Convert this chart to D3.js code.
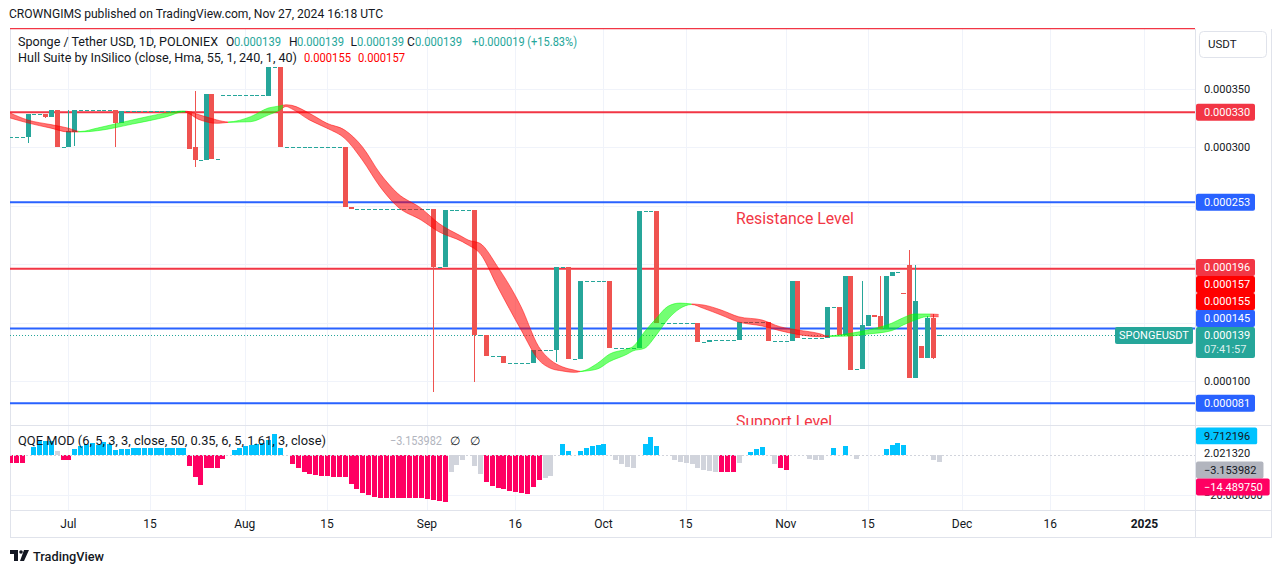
<!DOCTYPE html>
<html lang="en">
<head>
<meta charset="UTF-8">
<title>SPONGEUSDT 1D</title>
<script src="https://d3js.org/d3.v7.min.js"></script>
<style>
  body { margin: 0; background: #fff; }
  svg text { font-family: Roboto, "Noto Sans", sans-serif; fill: #131722; }
</style>
</head>
<body>
<svg width="1281" height="573"></svg>
<script>
// ---- data (prices in 1e-6 USDT) ----
// [date, open, high, low, close]; [date, price] = flat bar
const candles = [
  ["06-21",309],["06-22",309],["06-23",309],
  ["06-24",309,329,304,329],
  ["06-25",329],["06-26",329],
  ["06-27",329,329,325,326],
  ["06-28",326,332,326,332],
  ["06-29",332,332,300,300],
  ["06-30",300],
  ["07-01",300,332,300,314],
  ["07-02",313,332,301,332],
  ["07-03",332],["07-04",332],["07-05",332],["07-06",332],["07-07",332],["07-08",332],
  ["07-09",332,332,300,321],
  ["07-10",321,331,321,331],
  ["07-11",331],["07-12",331],["07-13",331],["07-14",331],["07-15",331],["07-16",331],
  ["07-17",331],["07-18",331],["07-19",331],["07-20",331],["07-21",331],
  ["07-22",331,331,299,299],
  ["07-23",300,348,283,289],
  ["07-24",289],
  ["07-25",289,346,289,346],
  ["07-26",346,346,290,290],
  ["07-27",290],
  ["07-28",345],["07-29",345],["07-30",345],["07-31",345],["08-01",345],["08-02",345],["08-03",345],["08-04",345],
  ["08-05",344,369,344,369],
  ["08-06",369],
  ["08-07",369,369,300,300],
  ["08-08",300],["08-09",300],["08-10",300],["08-11",300],["08-12",300],["08-13",300],
  ["08-14",300],["08-15",300],["08-16",300],["08-17",300],
  ["08-18",300,300,249,249],
  ["08-19",249,249,247,247],
  ["08-20",247],["08-21",247],["08-22",247],["08-23",247],["08-24",247],["08-25",247],
  ["08-26",247],["08-27",247],["08-28",247],["08-29",247],["08-30",247],["08-31",247],["09-01",247],
  ["09-02",247,247,91,198],
  ["09-03",198],
  ["09-04",198,246,198,246],
  ["09-05",246],["09-06",246],["09-07",246],["09-08",246],
  ["09-09",246,246,99,139],
  ["09-10",139],
  ["09-11",139,139,121,121],
  ["09-12",121],["09-13",121],
  ["09-14",121,121,115,115],
  ["09-15",115],["09-16",115],["09-17",115],["09-18",115],
  ["09-19",115,126.5,115,126.5],
  ["09-20",126.5],["09-21",126.5],["09-22",126.5],
  ["09-23",126.5,198,116.5,198],
  ["09-24",198],
  ["09-25",198,198,119,119],
  ["09-26",119],
  ["09-27",119,186,119,186],
  ["09-28",186],["09-29",186],["09-30",186],["10-01",186],
  ["10-02",186,186,128,128],
  ["10-03",128],["10-04",128],["10-05",128],["10-06",128],
  ["10-07",128,245.5,128,245.5],
  ["10-08",245.5],["10-09",245.5],
  ["10-10",245.5,245.5,150,150],
  ["10-11",150],["10-12",150],["10-13",150],["10-14",150],["10-15",150],["10-16",150],
  ["10-17",150,150,133.6,133.6],
  ["10-18",133.6],
  ["10-19",133.6,135.5,133.6,135.5],
  ["10-20",135.5],["10-21",135.5],["10-22",135.5],["10-23",135.5],
  ["10-24",135.5,150.8,135.5,150.8],
  ["10-25",150.8],["10-26",150.8],["10-27",150.8],["10-28",150.8],
  ["10-29",150.8,150.8,134.5,134.5],
  ["10-30",134.5],["10-31",134.5],["11-01",134.5],
  ["11-02",134.5,186,134.5,186],
  ["11-03",186,186,137,137],
  ["11-04",137],["11-05",137],["11-06",137],["11-07",137],
  ["11-08",137,163.6,137,163.6],
  ["11-09",163.6],
  ["11-10",163.6,163.6,139.4,139.4],
  ["11-11",139.4,190,139.4,190],
  ["11-12",190,190,109.4,109.4],
  ["11-13",110],
  ["11-14",110,186,110,148],
  ["11-15",147,156.5,147,156.5],
  ["11-16",156.5,156.5,154.5,154.5],
  ["11-17",155.5,190,144.3,144.3],
  ["11-18",144.3,190,144.3,190],
  ["11-19",189.5,193,189.5,193],
  ["11-20",193],
  ["11-21",175.5,175.5,174.5,174.5],
  ["11-22",199.4,212,102.3,102.3],
  ["11-23",102.3,199.4,102.3,168.5],
  ["11-24",130,130,120,120],
  ["11-25",120,155.6,120,154],
  ["11-26",154,157,119,120],
  ["11-27",139]
];

// Hull Suite band, read at knots: [date, upper, lower]
const hullKnots = [
  ["06-21",329.5,325.2],["06-24",323.5,321],["06-28",319.5,316.5],["07-01",316.5,313.2],
  ["07-03",313.6,313.2],["07-06",316.6,314.3],["07-12",323.5,320],["07-18",329.5,326.3],
  ["07-21",331.2,330.4],["07-24",327.7,323.5],["07-27",323.5,320.6],["07-29",321.8,321.4],
  ["08-02",326.3,322],["08-05",333.7,327.7],["08-07",335.5,332],["08-08",336.5,335],
  ["08-09",336,333],["08-12",329.2,323.5],["08-15",320.6,316.4],["08-18",314.9,307.8],
  ["08-21",300.6,289.2],["08-24",277.8,266.4],["08-27",260.7,249.2],["08-31",247.9,237.8],
  ["09-03",235,227.8],["09-07",223.5,219.3],["09-08",220.7,216.4],["09-10",217.9,209.3],
  ["09-13",197.9,180.7],["09-17",163.6,143.7],["09-20",129.4,118],["09-22",118,110.9],
  ["09-24",112.2,108.6],["09-26",109.4,107.4],["09-27",108.3,108],["09-30",115.2,110.3],
  ["10-02",122.9,116.5],["10-05",127.4,122.9],["10-06",129.4,125.7],["10-08",142.2,128],
  ["10-10",153.7,139.4],["10-12",164,153],["10-14",166.7,162],["10-16",166,165.5],
  ["10-18",165.1,162.2],["10-21",160.8,156.5],["10-24",155,150.5],["10-28",152.2,147.1],
  ["10-31",146.5,143.1],["11-03",143.7,139.9],["11-07",140.2,137.9],["11-08",138.6,138.1],
  ["11-12",140.8,138.5],["11-15",143.7,140.2],["11-19",149.4,143.1],["11-21",154.2,148],
  ["11-23",157.4,152.2],["11-25",157.4,155],["11-27",157,155]
];
// periods where the hull is rising (green)
const hullGreen = [["07-02T16","07-21T08"],["07-29T00","08-07T12"],["09-27T00","10-16T00"],["11-08T08","11-25T14"]];

// QQE MOD histogram: [date, value, kind] (b = cyan, p = pink, g = grey)
const qqeBars = [
  ["06-21",-4,"p"],["06-22",-4,"p"],["06-23",-4,"p"],
  ["06-25",4.3,"b"],["06-26",7.3,"b"],["06-27",7.3,"b"],["06-28",7.0,"b"],
  ["06-29",2,"g"],["06-30",-2.3,"p"],["07-01",-2.3,"p"],
  ["07-02",3.2,"b"],["07-03",4.8,"b"],["07-04",5.7,"b"],["07-05",6.0,"b"],["07-06",5.2,"b"],
  ["07-07",6.5,"b"],["07-08",5.5,"b"],["07-09",2.8,"b"],["07-10",3.2,"b"],["07-11",3.2,"b"],
  ["07-12",3.8,"b"],["07-13",3.8,"b"],["07-14",3.8,"b"],["07-15",3.8,"b"],["07-16",3.8,"b"],
  ["07-17",3.8,"b"],["07-18",3.8,"b"],["07-19",3.8,"b"],["07-20",3.8,"b"],["07-21",3.8,"b"],
  ["07-22",-5.2,"p"],["07-23",-10.7,"p"],["07-24",-14.8,"p"],["07-25",-6.5,"p"],["07-26",-6.5,"p"],
  ["07-27",-6.2,"p"],["07-28",-2,"p"],
  ["07-30",2.7,"b"],["07-31",3.8,"b"],["08-01",4.8,"b"],["08-02",5.2,"b"],["08-03",5.7,"b"],
  ["08-04",6.0,"b"],["08-05",7.7,"b"],["08-06",10.5,"b"],["08-07",3.8,"b"],
  ["08-09",-4.5,"p"],["08-10",-6.2,"p"],["08-11",-8.2,"p"],["08-12",-9.5,"p"],["08-13",-9.8,"p"],
  ["08-14",-10.2,"p"],["08-15",-10.2,"p"],["08-16",-10.7,"p"],["08-17",-10.7,"p"],["08-18",-10.7,"p"],
  ["08-19",-14.5,"p"],["08-20",-16.8,"p"],["08-21",-18.8,"p"],["08-22",-19.8,"p"],["08-23",-20.7,"p"],
  ["08-24",-21.2,"p"],["08-25",-21.2,"p"],["08-26",-21.2,"p"],["08-27",-21.2,"p"],["08-28",-21.2,"p"],
  ["08-29",-21.2,"p"],["08-30",-21.2,"p"],["08-31",-21.5,"p"],["09-01",-21.8,"p"],["09-02",-22.3,"p"],
  ["09-03",-22.8,"p"],["09-04",-23.5,"p"],
  ["09-05",-8.5,"g"],["09-06",-4.8,"g"],["09-07",-2.3,"g"],["09-09",-5.2,"g"],["09-10",-9.5,"g"],
  ["09-11",-13.2,"p"],["09-12",-15.3,"p"],["09-13",-16.5,"p"],["09-14",-17,"p"],["09-15",-17.8,"p"],
  ["09-16",-18.5,"p"],["09-17",-19,"p"],["09-18",-19.5,"p"],["09-19",-15.7,"p"],["09-20",-12.3,"p"],
  ["09-21",-11.5,"g"],["09-22",-10.3,"g"],
  ["09-24",5.7,"b"],["09-25",2.2,"b"],
  ["09-27",2.2,"b"],["09-28",3.8,"b"],["09-29",4.8,"b"],["09-30",5.2,"b"],["10-01",5.7,"b"],
  ["10-03",-2.3,"g"],["10-04",-4.3,"g"],["10-05",-5.7,"g"],["10-06",-6.3,"g"],
  ["10-08",5.7,"b"],["10-09",9.2,"b"],["10-10",4.7,"b"],
  ["10-13",-2.3,"g"],["10-14",-3.3,"g"],["10-15",-3.7,"g"],["10-16",-4.3,"g"],["10-17",-6.2,"g"],
  ["10-18",-7.3,"g"],["10-19",-7.7,"g"],["10-20",-8.3,"g"],
  ["10-21",-8.3,"p"],["10-22",-8.3,"p"],["10-23",-8.3,"p"],["10-24",-3.7,"g"],
  ["10-26",1.7,"b"],["10-27",3.2,"b"],["10-28",4.2,"b"],
  ["10-30",-4.3,"g"],["10-31",-6.3,"p"],["11-01",-7.3,"p"],
  ["11-05",-1.7,"g"],["11-06",-2.2,"g"],["11-07",-2.2,"g"],
  ["11-09",3.7,"b"],["11-11",4.7,"b"],["11-13",-1.7,"g"],
  ["11-18",3.2,"b"],["11-19",5.2,"b"],["11-20",6.2,"b"],["11-21",5.2,"b"],
  ["11-26",-2.2,"g"],["11-27",-3.15,"g"]
];

const redLevels = [402, 330, 196];
const blueLevels = [253, 145, 81];
const lastPrice = 139;
const priceGrid = [350, 300, 250, 200, 150, 100];
const priceTickLabels = [350, 300, 100];
// [price, colour] labels on the price scale
const priceMarks = [[330,"#f23645"],[253,"#2962ff"],[196,"#f23645"],[157,"#ff0000"],
                    [155,"#ff0000"],[145,"#2962ff"],[139,"#26a69a"],[81,"#2962ff"]];
// [value, box colour, text colour] labels on the QQE scale
const qqeMarks = [[9.712196,"#00c3ff","#131722"],[2.02132,null,"#131722"],
                  [-3.153982,"#b2b5be","#131722"],[-14.48975,"#ff0062","#ffffff"]];
const qqeGrid = [-20];
const timeTicks = [["07-01","Jul"],["07-15","15"],["08-01","Aug"],["08-15","15"],["09-01","Sep"],
                   ["09-16","16"],["10-01","Oct"],["10-15","15"],["11-01","Nov"],["11-15","15"],
                   ["12-01","Dec"],["12-16","16"],["2025-01-01","2025"]];

// ---- layout ----
const plotL = 10, plotR = 1195, axisR = 1271;
const mainTop = 28, mainBot = 425, qqeBot = 510, chartBot = 537;
const teal = "#26a69a", red = "#ef5350", border = "#e0e3eb", grid = "#f0f3fa";

const parseDay = s => s.length === 10 ? new Date(s + "T00:00Z")
  : new Date("2024-" + s + (s.includes("T") ? ":00Z" : "T00:00Z"));

const svg = d3.select("svg");

// time scale follows the bar positions of the chart (one bar is missing in late July)
const x = d3.scaleUtc()
  .domain([parseDay("07-01"), parseDay("07-15"), parseDay("08-01"), parseDay("2025-01-01")])
  .range([68.4, 150, 244.7, 1144.4]);
const y = d3.scaleLinear().domain([100, 350]).range([381, 89]);
const yq = d3.scaleLinear().domain([0, -20]).range([455.3, 495.3]);

const fmtP = v => (v / 1e6).toFixed(6);
const fmtQ = v => (v < 0 ? "\u2212" : "") + Math.abs(v).toFixed(6);

const defs = svg.append("defs");
defs.append("clipPath").attr("id", "clipMain").append("rect")
  .attr("x", plotL).attr("y", mainTop).attr("width", plotR - plotL).attr("height", mainBot - mainTop);
defs.append("clipPath").attr("id", "clipQqe").append("rect")
  .attr("x", plotL).attr("y", mainBot).attr("width", plotR - plotL).attr("height", qqeBot - mainBot);

// ---- grid ----
const gGrid = svg.append("g").attr("stroke", grid).attr("shape-rendering", "crispEdges");
gGrid.selectAll("line.v").data(timeTicks).join("line")
  .attr("x1", d => Math.round(x(parseDay(d[0]))) + 0.5).attr("x2", d => Math.round(x(parseDay(d[0]))) + 0.5)
  .attr("y1", mainTop).attr("y2", qqeBot);
gGrid.selectAll("line.h").data(priceGrid).join("line")
  .attr("x1", plotL).attr("x2", plotR).attr("y1", d => Math.round(y(d)) + 0.5).attr("y2", d => Math.round(y(d)) + 0.5);
gGrid.selectAll("line.q").data(qqeGrid).join("line")
  .attr("x1", plotL).attr("x2", plotR).attr("y1", d => Math.round(yq(d)) + 0.5).attr("y2", d => Math.round(yq(d)) + 0.5);

// ---- frame ----
const gFrame = svg.append("g").attr("stroke", border).attr("shape-rendering", "crispEdges");
[[plotL, mainTop, plotL, chartBot], [axisR, mainTop, axisR, chartBot], [plotR, mainTop, plotR, chartBot],
 [plotL, mainBot, axisR, mainBot], [plotL, qqeBot, axisR, qqeBot], [plotL, chartBot, axisR, chartBot]]
  .forEach(([x1, y1, x2, y2]) => gFrame.append("line")
    .attr("x1", x1 + 0.5).attr("y1", y1 + 0.5).attr("x2", x2 + 0.5).attr("y2", y2 + 0.5));

// ---- main pane ----
const gMain = svg.append("g").attr("clip-path", "url(#clipMain)");

// last price dotted line
gMain.append("line")
  .attr("x1", plotL).attr("x2", 1115)
  .attr("y1", Math.round(y(lastPrice)) + 0.5).attr("y2", Math.round(y(lastPrice)) + 0.5)
  .attr("stroke", teal).attr("stroke-dasharray", "1,2");

// support / resistance lines
gMain.selectAll("line.lvl")
  .data(redLevels.map(v => [v, "#f23645"]).concat(blueLevels.map(v => [v, "#2962ff"])))
  .join("line")
  .attr("x1", plotL).attr("x2", plotR)
  .attr("y1", d => y(d[0])).attr("y2", d => y(d[0]))
  .attr("stroke", d => d[1]).attr("stroke-width", 2);

// candles
const bars = candles.map(r => {
  const [d, o, h = o, l = o, c = o] = r;
  return { date: parseDay(d), o, h, l, c };
});
const gCandles = gMain.append("g").attr("shape-rendering", "crispEdges");
const colorOf = b => b.c < b.o ? red : teal;
gCandles.selectAll("rect.wick")
  .data(bars.filter(b => b.h > Math.max(b.o, b.c) || b.l < Math.min(b.o, b.c)))
  .join("rect")
  .attr("x", b => Math.round(x(b.date)))
  .attr("width", 1)
  .attr("y", b => y(b.h))
  .attr("height", b => y(b.l) - y(b.h))
  .attr("fill", colorOf);
gCandles.selectAll("rect.body").data(bars).join("rect")
  .attr("x", b => Math.round(x(b.date)) - (b.o === b.c ? 1 : 2))
  .attr("width", b => b.o === b.c ? 4 : 5)
  .attr("y", b => y(Math.max(b.o, b.c)))
  .attr("height", b => Math.max(1, y(Math.min(b.o, b.c)) - y(Math.max(b.o, b.c))))
  .attr("fill", colorOf);

// hull band
const hull = hullKnots.map(([d, u, l]) => ({ date: parseDay(d), u, l }));
const hullArea = d3.area().curve(d3.curveMonotoneX)
  .x(d => x(d.date)).y0(d => y(d.l)).y1(d => y(d.u));
const hullTop = d3.line().curve(d3.curveMonotoneX).x(d => x(d.date)).y(d => y(d.u));
const hullBot = d3.line().curve(d3.curveMonotoneX).x(d => x(d.date)).y(d => y(d.l));
const greenSpans = hullGreen.map(([a, b]) => [x(parseDay(a)), x(parseDay(b))]);
const redSpans = [];
let start = plotL - 10;
greenSpans.forEach(([a, b]) => { redSpans.push([start, a]); start = b; });
redSpans.push([start, plotR + 10]);
[["hullGreen", greenSpans, "#00ff00"], ["hullRed", redSpans, "#ff0000"]].forEach(([id, spans, col]) => {
  const cp = defs.append("clipPath").attr("id", id);
  spans.forEach(([a, b]) => cp.append("rect").attr("x", a).attr("width", b - a).attr("y", 0).attr("height", 573));
  const g = gMain.append("g").attr("clip-path", `url(#${id})`);
  g.append("path").attr("d", hullArea(hull)).attr("fill", col).attr("fill-opacity", 0.55);
  g.append("path").attr("d", hullTop(hull)).attr("fill", "none").attr("stroke", col).attr("stroke-opacity", 0.5);
  g.append("path").attr("d", hullBot(hull)).attr("fill", "none").attr("stroke", col).attr("stroke-opacity", 0.5);
});

// level captions
gMain.append("text").attr("x", 736).attr("y", 224).text("Resistance Level")
  .style("font-size", "15.8px").style("fill", "#f23645");
gMain.append("text").attr("x", 736).attr("y", 427).text("Support Level")
  .style("font-size", "15.8px").style("fill", "#f23645");

// ---- QQE pane ----
const gQ = svg.append("g").attr("clip-path", "url(#clipQqe)");
const qColor = { b: "#00c3ff", p: "#ff0062", g: "#d1d4dc" };
gQ.append("g").attr("shape-rendering", "crispEdges")
  .selectAll("rect").data(qqeBars).join("rect")
  .attr("x", d => Math.round(x(parseDay(d[0]))) - 2)
  .attr("width", 5)
  .attr("y", d => yq(Math.max(0, d[1])))
  .attr("height", d => Math.abs(yq(d[1]) - yq(0)))
  .attr("fill", d => qColor[d[2]]);
gQ.append("line").attr("x1", plotL).attr("x2", plotR)
  .attr("y1", Math.round(yq(0)) + 0.5).attr("y2", Math.round(yq(0)) + 0.5)
  .attr("stroke", "#d1d4dc").attr("stroke-dasharray", "2,2");

// ---- price axis ----
const gAxis = svg.append("g").attr("transform", `translate(${plotR},0)`)
  .call(d3.axisRight(y).tickValues(priceTickLabels).tickSize(0).tickPadding(9).tickFormat(fmtP));
gAxis.select(".domain").remove();
gAxis.selectAll("text").style("font-size", "11px").style("font-family", "Roboto, sans-serif").attr("fill", "#131722");

const gQAxis = svg.append("g").attr("transform", `translate(${plotR},0)`)
  .call(d3.axisRight(yq).tickValues(qqeGrid).tickSize(0).tickPadding(9).tickFormat(fmtQ));
gQAxis.select(".domain").remove();
gQAxis.selectAll("text").style("font-size", "11px").style("font-family", "Roboto, sans-serif").attr("fill", "#131722");

// coloured price labels, stacked upward when they collide
const labH = 17;
let prevTop = Infinity;
priceMarks.slice().sort((a, b) => a[0] - b[0]).forEach(([v, col]) => {
  const h = v === lastPrice ? 31 : labH;
  let top = y(v) - labH / 2;
  if (top + h > prevTop) top = prevTop - h;
  prevTop = top;
  const g = svg.append("g");
  g.append("rect").attr("x", plotR + 1).attr("y", top).attr("width", 59).attr("height", h)
    .attr("rx", 2).attr("fill", col);
  g.append("text").attr("x", plotR + 9).attr("y", top + labH / 2).attr("dy", "0.35em")
    .text(fmtP(v)).style("font-size", "11px").style("fill", "#fff");
  if (v === lastPrice) {
    g.append("text").attr("x", plotR + 9).attr("y", top + labH / 2 + 14).attr("dy", "0.35em")
      .text("07:41:57").style("font-size", "11px").style("fill", "#fff").style("fill-opacity", 0.85);
    svg.append("rect").attr("x", 1115).attr("y", top).attr("width", 78).attr("height", labH)
      .attr("rx", 2).attr("fill", teal);
    svg.append("text").attr("x", 1119).attr("y", top + labH / 2).attr("dy", "0.35em")
      .text("SPONGEUSDT").style("font-size", "11px").style("fill", "#fff");
  }
});

// QQE labels, stacked downward
let prevBot = -Infinity;
qqeMarks.forEach(([v, col, tcol]) => {
  let top = Math.max(yq(v) - labH / 2, prevBot);
  prevBot = top + labH;
  const g = svg.append("g");
  const r = g.append("rect").attr("x", plotR + 1).attr("y", top).attr("height", labH).attr("rx", 2)
    .attr("fill", col || "#fff");
  const t = g.append("text").attr("x", plotR + 9).attr("y", top + labH / 2).attr("dy", "0.35em")
    .text(fmtQ(v)).style("font-size", "11px").style("fill", tcol);
  r.attr("width", t.node().getComputedTextLength() + 15);
});

// USDT box
svg.append("rect").attr("x", 1199.5).attr("y", 31.5).attr("width", 67).attr("height", 26).attr("rx", 4)
  .attr("fill", "#fff").attr("stroke", border);
svg.append("text").attr("x", 1208).attr("y", 44).attr("dy", "0.35em").text("USDT").style("font-size", "11.5px");

// ---- time axis ----
svg.append("g").selectAll("text").data(timeTicks).join("text")
  .attr("x", d => x(parseDay(d[0]))).attr("y", 524).attr("dy", "0.35em")
  .attr("text-anchor", "middle")
  .style("font-size", "12px")
  .style("font-weight", d => d[1] === "2025" ? "bold" : "normal")
  .text(d => d[1]);

// ---- header & legends ----
svg.append("text").attr("x", 9).attr("y", 14).attr("dy", "0.35em")
  .attr("textLength", 374).attr("lengthAdjust", "spacingAndGlyphs")
  .text("CROWNGIMS published on TradingView.com, Nov 27, 2024 16:18 UTC").style("font-size", "12px");

// [x, text, colour, width]
const legend = (yy, parts) => parts.forEach(([xx, txt, col, w]) => {
  const t = svg.append("text").attr("x", xx).attr("y", yy).attr("dy", "0.35em").text(txt)
    .style("font-size", "12px").style("fill", col);
  if (w) t.attr("textLength", w).attr("lengthAdjust", "spacingAndGlyphs");
});
legend(42, [[18, "Sponge / Tether USD, 1D, POLONIEX", "#131722", 200],
  [226, "O", "#131722"], [234, "0.000139", teal, 47],
  [289, "H", "#131722"], [297, "0.000139", teal, 47],
  [350.5, "L", "#131722"], [357, "0.000139", teal, 47],
  [407, "C", "#131722"], [415, "0.000139", teal, 47],
  [472, "+0.000019 (+15.83%)", teal, 105]]);
legend(58, [[18, "Hull Suite by InSilico (close, Hma, 55, 1, 240, 1, 40)", "#131722", 279],
  [304, "0.000155", "#ff0000", 47], [358, "0.000157", "#ff0000", 47]]);
legend(441, [[18, "QQE MOD (6, 5, 3, 3, close, 50, 0.35, 6, 5, 1.61, 3, close)", "#131722", 308],
  [390, "\u22123.153982", "#b2b5be", 52], [450, "\u2205", "#131722"], [470, "\u2205", "#131722"]]);

// ---- TradingView mark ----
svg.append("path").attr("d", "M10,550h8v11h-4v-7h-4z M24,550h5l-5,11h-4z").attr("fill", "#131722");
svg.append("circle").attr("cx", 21).attr("cy", 552).attr("r", 1.8).attr("fill", "#131722");
svg.append("text").attr("x", 33).attr("y", 556).attr("dy", "0.35em").text("TradingView")
  .attr("textLength", 71).attr("lengthAdjust", "spacingAndGlyphs")
  .style("font-size", "13.5px").style("font-weight", 500);
</script>
</body>
</html>
